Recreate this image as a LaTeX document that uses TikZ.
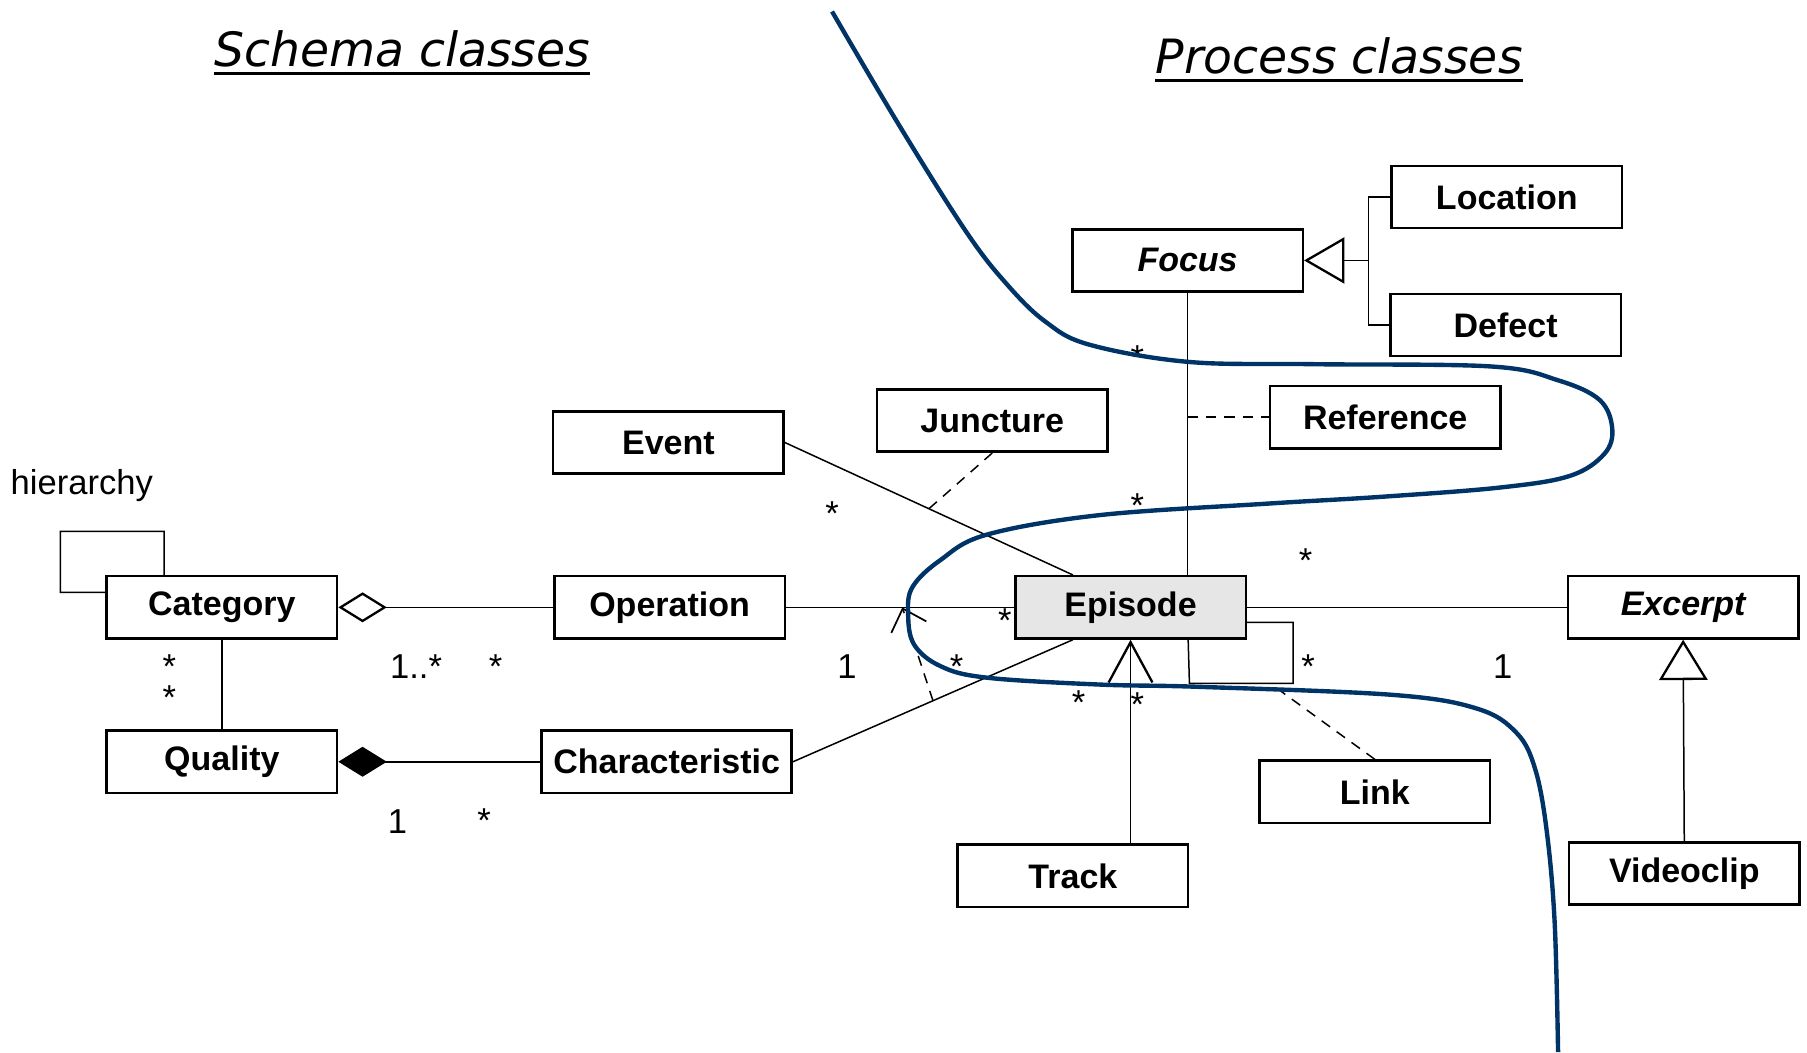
\documentclass[tikz,border=0pt]{standalone}
\usepackage{fontspec}
\setmainfont{Liberation Sans}
\newfontfamily\titlefont{DejaVu Sans}
\usetikzlibrary{arrows.meta,calc}
\definecolor{curveblue}{RGB}{0,51,102}
\definecolor{epigray}{RGB}{230,230,230}
\tikzstyle{cls}=[draw, line width=2.2pt, minimum width=200pt,
    minimum height=54pt, inner sep=0pt,
    font=\fontsize{29.5}{34}\selectfont\bfseries]
\tikzstyle{mult}=[inner sep=0pt, anchor=base,
    font=\fontsize{30}{34}\selectfont]
\tikzstyle{ttl}=[inner sep=0pt, anchor=base,
    font=\titlefont\itshape\fontsize{41}{48}\selectfont]
\tikzstyle{assoc}=[line width=1.3pt]
\tikzstyle{dep}=[line width=1.3pt, dash pattern=on 9pt off 7pt]

\begin{document}
\begin{tikzpicture}[x=1pt, y=-1pt]
    \useasboundingbox (0,0) rectangle (1568,913);
    \node (sch) [ttl] at (349,58) {Schema classes};
    \node (pro) [ttl] at (1162,64) {Process classes};
    \draw[line width=2.5pt] ([yshift=-6pt]sch.base west) -- ([yshift=-6pt]sch.base east);
    \draw[line width=2.5pt] ([yshift=-6pt]pro.base west) -- ([yshift=-6pt]pro.base east);

    \node (cat) [cls] at (192.5,527) {Category};
    \node (qua) [cls] at (192.5,661) {Quality};
    \node (op) [cls] at (581,527) {Operation};
    \node (chr) [cls, minimum width=217pt] at (578.5,661) {Characteristic};
    \node (ev) [cls] at (580,384) {Event};
    \node (jun) [cls] at (861,365) {Juncture};
    \node (epi) [cls, fill=epigray] at (981,527) {Episode};
    \node (foc) [cls] at (1030.5,226) {\itshape Focus};
    \node (loc) [cls] at (1307.5,171) {Location};
    \node (dfc) [cls] at (1306.5,282) {Defect};
    \node (ref) [cls] at (1202,362) {Reference};
    \node (exc) [cls] at (1460.5,527) {\itshape Excerpt};
    \node (lnk) [cls] at (1193,687) {Link};
    \node (trk) [cls] at (931,760) {Track};
    \node (vid) [cls] at (1461.5,758) {Videoclip};
    \node (hier) [mult] at (71,429) {hierarchy};

    \draw[assoc] ([yshift=13pt]cat.west) -- ++(-39,0) |- ++(90,-53) -- ([xshift=-50pt]cat.north);
    \draw[assoc, {Diamond[open,length=42pt,width=26pt,line width=2pt]}-] (cat.east) -- (op.west);
    \draw[assoc, {Diamond[length=42pt,width=26pt]}-] (qua.east) -- (chr.west);
    \draw[assoc] (cat.south) -- (qua.north);
    \draw[assoc] (op.east) -- coordinate[pos=.51] (opm) (epi.west);
    \draw[assoc] (ev.east) -- coordinate[pos=.5] (evm) ([xshift=-50pt]epi.north);
    \draw[dep] (jun.south) -- (evm);
    \draw[assoc] (chr.east) -- coordinate[pos=.5] (chm) ([xshift=-50pt]epi.south);
    \draw[dep, -{Straight Barb[length=17pt,width=32pt,line width=1.5pt]}] (chm) -- (opm);

    \draw[assoc] (foc.south) -- (foc.south |- epi.north);
    \draw[dep] (foc.south |- ref.west) -- (ref.west);
    \coordinate (fk) at ([xshift=56pt]foc.east);
    \draw[assoc] (loc.west) -| (fk) |- (dfc.west);
    \draw[assoc, -{Triangle[open,length=35pt,width=40pt,line width=2pt]}] (fk) -- (foc.east);

    \draw[assoc] (epi.east) -- (exc.west);
    \draw[assoc] ([yshift=-13pt]epi.east) -- ++(40,0) |- ++(-90,53) -- ([xshift=50pt]epi.south);
    \coordinate (lk) at ($(epi.south)+(124,40)$);
    \draw[dep] (lnk.north) -- (lk);
    \draw[assoc, -{Straight Barb[length=35pt,width=38pt,line width=2pt]}] (trk.north -| epi.south) -- (epi.south);
    \draw[assoc, -{Triangle[open,length=35pt,width=42pt,line width=2pt]}] (vid.north) -- (exc.south);

    \node (m1) [mult] at (147,589) {*};
    \node (m2) [mult] at (147,616) {*};
    \node (m3) [mult] at (361,589) {1..*};
    \node (m4) [mult] at (430,589) {*};
    \node (m5) [mult] at (345,723) {1};
    \node (m6) [mult] at (420,722) {*};
    \node (m7) [mult] at (722,456) {*};
    \node (m8) [mult] at (735,589) {1};
    \node (m9) [mult] at (830,589) {*};
    \node (m10) [mult] at (872,549) {*};
    \node (m11) [mult] at (987,321) {*};
    \node (m12) [mult] at (987,449) {*};
    \node (m13) [mult] at (1133,497) {*};
    \node (m14) [mult] at (1304,589) {1};
    \node (m15) [mult] at (1135,589) {*};
    \node (m16) [mult] at (936,620) {*};
    \node (m17) [mult] at (987,622) {*};

    \draw[curveblue, line width=3.8pt] plot[smooth, tension=0.6] coordinates {
        (722,10) (781,110) (839,202) (874,247) (907,279) (945,299) (1031,314)
        (1139,316) (1294,318) (1352,330) (1388,347) (1399,372) (1392,394)
        (1362,413) (1302,423) (1200,431) (1100,437) (954,447) (856,464)
        (816,486) (792,509) (788,532) (793,559) (816,578) (856,588) (954,594)
        (1041,596) (1209,603) (1282,615) (1316,636) (1332,667) (1342,720)
        (1349,800) (1352,913)};
\end{tikzpicture}
\end{document}
